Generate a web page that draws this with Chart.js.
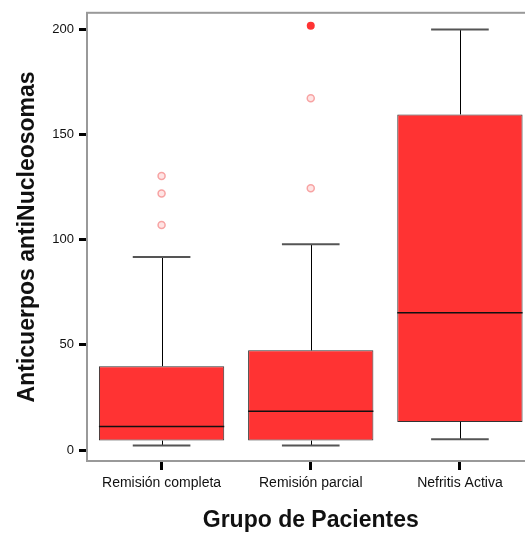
<!DOCTYPE html>
<html>
<head>
<meta charset="utf-8">
<script src="https://cdn.jsdelivr.net/npm/chart.js@4"></script>
<style>
  html, body { margin: 0; padding: 0; background: #fff; overflow: hidden; }
  #wrap { width: 540px; height: 534px; }
</style>
</head>
<body>
<div id="wrap"><canvas id="boxChart"></canvas></div>
<script>
const groups = ['Remisión completa', 'Remisión parcial', 'Nefritis Activa'];
const q1Values = [4.5, 4.5, 13.4];
const medianValues = [11.2, 18.4, 65.3];
const q3Values = [39.9, 47.4, 159.6];
const whiskerLow = [2.2, 2.2, 5.2];
const whiskerHigh = [91.8, 97.8, 200];
const outlierGroups = ['Remisión completa', 'Remisión completa', 'Remisión completa', 'Remisión parcial', 'Remisión parcial'];
const outlierValues = [130.3, 122, 107, 167.3, 124.5];
const extremeGroups = ['Remisión parcial'];
const extremeValues = [201.7];
const yTicks = [0, 50, 100, 150, 200];

const boxFill = '#ff3333';
const fontFamily = "'Liberation Sans', Arial, sans-serif";

// whiskers, caps and medians drawn through the chart scales
const boxExtras = {
    id: 'boxExtras',
    afterDatasetsDraw(chart) {
        const ctx = chart.ctx;
        const x = chart.scales.x;
        const y = chart.scales.y;
        const boxMeta = chart.getDatasetMeta(0);
        ctx.save();
        groups.forEach((g, i) => {
            const cx = x.getPixelForValue(i);
            const bar = boxMeta.data[i];
            const half = bar.width / 2;
            const capHalf = half * 0.46;

            ctx.strokeStyle = '#000';
            ctx.lineWidth = 1;
            ctx.beginPath();
            ctx.moveTo(Math.round(cx) + 0.5, y.getPixelForValue(q3Values[i]));
            ctx.lineTo(Math.round(cx) + 0.5, y.getPixelForValue(whiskerHigh[i]));
            ctx.moveTo(Math.round(cx) + 0.5, y.getPixelForValue(q1Values[i]));
            ctx.lineTo(Math.round(cx) + 0.5, y.getPixelForValue(whiskerLow[i]));
            ctx.stroke();

            ctx.strokeStyle = '#555';
            ctx.lineWidth = 2;
            ctx.beginPath();
            ctx.moveTo(cx - capHalf, y.getPixelForValue(whiskerHigh[i]));
            ctx.lineTo(cx + capHalf, y.getPixelForValue(whiskerHigh[i]));
            ctx.moveTo(cx - capHalf, y.getPixelForValue(whiskerLow[i]));
            ctx.lineTo(cx + capHalf, y.getPixelForValue(whiskerLow[i]));
            ctx.stroke();

            ctx.strokeStyle = '#111';
            ctx.lineWidth = 1.5;
            ctx.beginPath();
            ctx.moveTo(cx - half, y.getPixelForValue(medianValues[i]));
            ctx.lineTo(cx + half, y.getPixelForValue(medianValues[i]));
            ctx.stroke();
        });
        ctx.restore();
    }
};

const frame = {
    id: 'frame',
    afterDraw(chart) {
        const a = chart.chartArea;
        const ctx = chart.ctx;
        ctx.save();
        ctx.strokeStyle = '#999';
        ctx.lineWidth = 2;
        ctx.strokeRect(a.left, a.top, a.right - a.left, a.bottom - a.top);
        ctx.restore();
    }
};

new Chart(document.getElementById('boxChart'), {
    type: 'bar',
    data: {
        labels: groups,
        datasets: [
            {
                label: 'Caja',
                data: groups.map((g, i) => [q1Values[i], q3Values[i]]),
                backgroundColor: boxFill,
                borderColor: '#333',
                borderWidth: 1,
                borderSkipped: false,
                categoryPercentage: 1,
                barPercentage: 0.84,
                order: 2
            },
            {
                type: 'line',
                label: 'Atípicos',
                data: outlierGroups.map((g, i) => ({ x: g, y: outlierValues[i] })),
                showLine: false,
                pointStyle: 'circle',
                pointRadius: 3.5,
                pointBorderWidth: 1.5,
                pointBorderColor: '#f7a3a3',
                pointBackgroundColor: 'rgba(255, 210, 210, 0.6)',
                order: 1
            },
            {
                type: 'line',
                label: 'Extremos',
                data: extremeGroups.map((g, i) => ({ x: g, y: extremeValues[i] })),
                showLine: false,
                pointStyle: 'circle',
                pointRadius: 4,
                pointBorderWidth: 0,
                pointBackgroundColor: boxFill,
                order: 1
            }
        ]
    },
    options: {
        responsive: true,
        maintainAspectRatio: false,
        animation: false,
        layout: { padding: { top: 12, right: 3, left: 0, bottom: 0 } },
        plugins: {
            legend: { display: false },
            tooltip: { enabled: false }
        },
        scales: {
            x: {
                offset: true,
                afterFit: scale => { scale.height = 73; },
                grid: {
                    offset: false,
                    drawOnChartArea: false,
                    drawTicks: true,
                    tickLength: 9,
                    tickWidth: 3,
                    tickColor: '#000'
                },
                border: { display: false },
                ticks: {
                    color: '#111',
                    padding: 5,
                    font: { family: fontFamily, size: 14 }
                },
                title: {
                    display: true,
                    text: 'Grupo de Pacientes',
                    color: '#111',
                    padding: { top: 12, bottom: 0 },
                    font: { family: fontFamily, size: 23, weight: 'bold' }
                }
            },
            y: {
                min: -5.2,
                max: 207.9,
                afterFit: scale => { scale.width = 87; },
                afterBuildTicks: axis => { axis.ticks = yTicks.map(v => ({ value: v })); },
                grid: {
                    drawOnChartArea: false,
                    drawTicks: true,
                    tickLength: 8,
                    tickWidth: 3,
                    tickColor: '#000'
                },
                border: { display: false },
                ticks: {
                    color: '#111',
                    padding: 5,
                    font: { family: fontFamily, size: 13 }
                },
                title: {
                    display: true,
                    text: 'Anticuerpos antiNucleosomas',
                    color: '#111',
                    padding: { top: 14, bottom: 0 },
                    font: { family: fontFamily, size: 23, weight: 'bold' }
                }
            }
        }
    },
    plugins: [boxExtras, frame]
});
</script>
</body>
</html>
